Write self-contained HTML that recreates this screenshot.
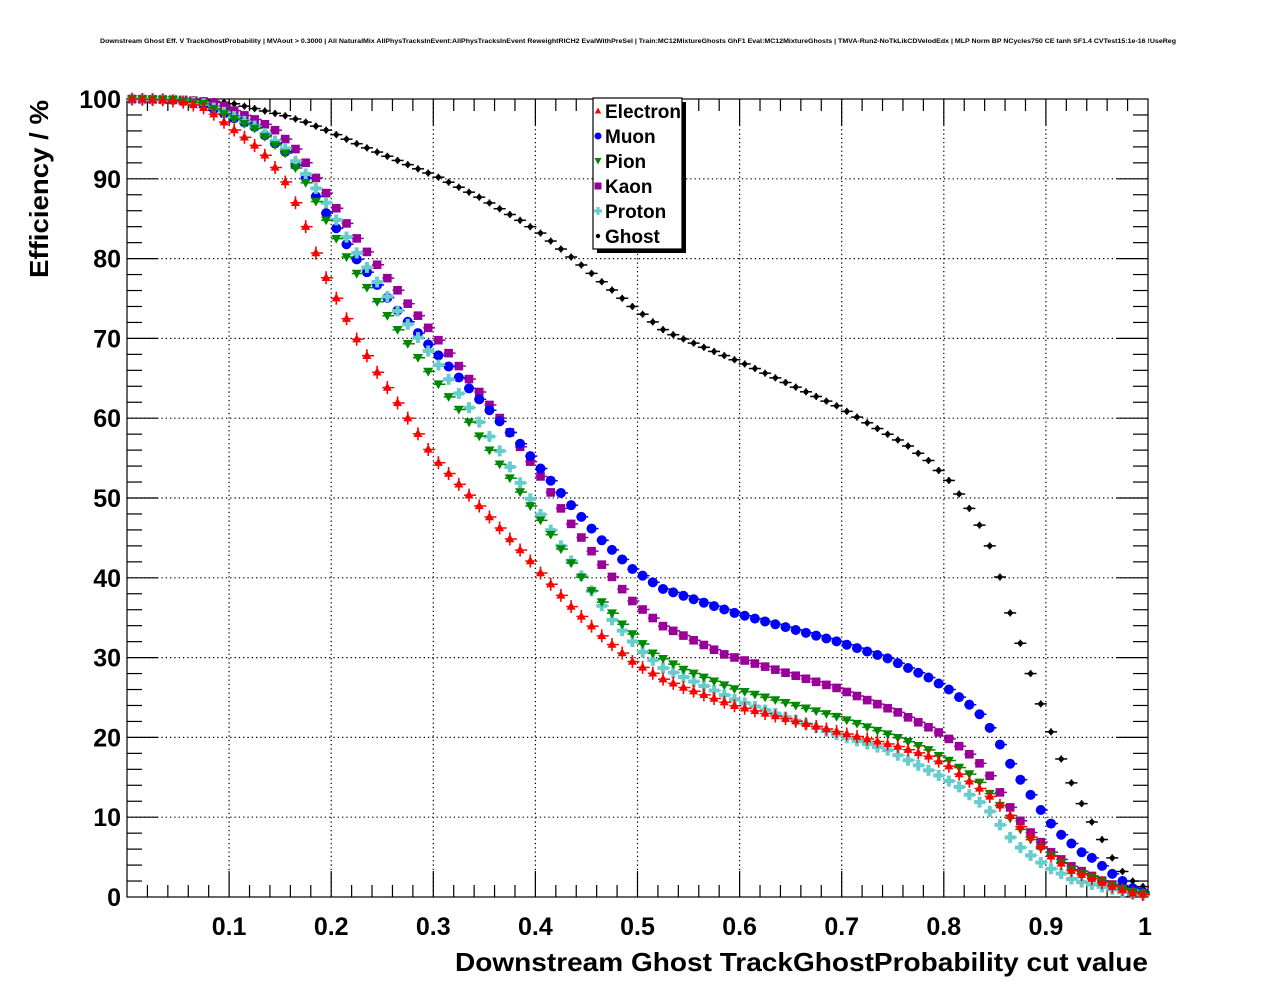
<!DOCTYPE html>
<html><head><meta charset="utf-8"><style>
html,body{margin:0;padding:0;background:#fff;}
svg{display:block;font-family:"Liberation Sans",Arial,sans-serif;}
</style></head><body>
<svg id="s" width="1276" height="996" xmlns="http://www.w3.org/2000/svg">
<rect width="1276" height="996" fill="#fff"/>
<text x="638" y="43" font-size="6.6" font-weight="bold" text-anchor="middle" textLength="1076" lengthAdjust="spacingAndGlyphs">Downstream Ghost Eff. V TrackGhostProbability | MVAout &gt; 0.3000 | All NaturalMix AllPhysTracksInEvent:AllPhysTracksInEvent ReweightRICH2 EvalWithPreSel | Train:MC12MixtureGhosts GhF1 Eval:MC12MixtureGhosts | TMVA-Run2-NoTkLikCDVelodEdx | MLP Norm BP NCycles750 CE tanh SF1.4 CVTest15:1e-16 !UseReg</text>
<g id="grid"></g><g id="axes"></g><g id="data"></g>
<text transform="translate(48,278) rotate(-90)" font-size="26" font-weight="bold" textLength="178" lengthAdjust="spacingAndGlyphs">Efficiency / %</text>
<text x="455" y="971" font-size="26" font-weight="bold" textLength="693" lengthAdjust="spacingAndGlyphs">Downstream Ghost TrackGhostProbability cut value</text>
<g id="leg"></g>
</svg>
<script>
var NS="http://www.w3.org/2000/svg";
function el(p,t,a,txt){var e=document.createElementNS(NS,t);for(var k in a)e.setAttribute(k,a[k]);if(txt!==undefined)e.textContent=txt;p.appendChild(e);return e;}
var X0=127,X1=1148,Y0=897,Y1=99;
function px(x){return X0+x*(X1-X0);}
function py(v){return Y0-v*(Y0-Y1)/100;}
var g=document.getElementById('grid'),ax=document.getElementById('axes'),dg=document.getElementById('data');
for(var i=1;i<10;i++){var x=px(i/10);el(g,'line',{x1:x,y1:Y1,x2:x,y2:Y0,stroke:'#000','stroke-width':1.2,'stroke-dasharray':'1.3,3'});}
for(var i=1;i<10;i++){var y=py(i*10);el(g,'line',{x1:X0,y1:y,x2:X1,y2:y,stroke:'#000','stroke-width':1.2,'stroke-dasharray':'1.3,3'});}
el(ax,'rect',{x:X0,y:Y1,width:X1-X0,height:Y0-Y1,fill:'none',stroke:'#000','stroke-width':1.2});
for(var i=1;i<50;i++){var x=px(i/50);var L=(i%5==0)?26:12;
 el(ax,'line',{x1:x,y1:Y0,x2:x,y2:Y0-L,stroke:'#000','stroke-width':1.2});
 el(ax,'line',{x1:x,y1:Y1,x2:x,y2:Y1+L,stroke:'#000','stroke-width':1.2});}
for(var i=1;i<50;i++){var y=py(i*2);var L=(i%5==0)?31:15;
 el(ax,'line',{x1:X0,y1:y,x2:X0+L,y2:y,stroke:'#000','stroke-width':1.2});
 el(ax,'line',{x1:X1,y1:y,x2:X1-L,y2:y,stroke:'#000','stroke-width':1.2});}
for(var i=1;i<=10;i++){var t=(i==10)?'1':('0.'+i);el(ax,'text',{x:px(i/10)+(i==10?-3:0),y:935,'font-size':25,'font-weight':'bold','text-anchor':'middle'},t);}
for(var i=0;i<=10;i++){el(ax,'text',{x:121,y:py(i*10)+9,'font-size':25,'font-weight':'bold','text-anchor':'end'},String(i*10));}
var S={
ghost:[[0,100],[0.055,100],[0.075,99.8],[0.095,99.6],[0.105,99.4],[0.125,98.8],[0.155,97.9],[0.175,97.1],[0.195,96.1],[0.225,94.4],[0.265,92.3],[0.305,90.2],[0.345,87.7],[0.385,84.8],[0.405,83.2],[0.445,79.2],[0.465,77.1],[0.495,74],[0.525,71.1],[0.536,70.4],[0.606,66.75],[0.696,61.5],[0.763,56.7],[0.785,54.7],[0.805,52.2],[0.815,50.5],[0.825,48.7],[0.835,46.6],[0.845,44],[0.855,40.1],[0.865,35.6],[0.875,31.8],[0.885,28],[0.895,24.2],[0.905,20.7],[0.915,17.3],[0.925,14.3],[0.935,11.7],[0.945,9.4],[0.955,7.2],[0.965,4.9],[0.975,3.2],[0.985,2],[0.995,1.3]],
muon:[[0,100],[0.045,99.9],[0.075,99.3],[0.105,97.6],[0.125,96.5],[0.155,93.4],[0.165,91.7],[0.175,90.1],[0.185,87.8],[0.195,85.7],[0.205,83.8],[0.215,81.8],[0.225,79.9],[0.265,73.5],[0.295,69.25],[0.325,65.1],[0.355,61],[0.385,56.8],[0.405,53.7],[0.435,49.1],[0.465,44.7],[0.495,41.1],[0.525,38.6],[0.595,35.6],[0.696,32],[0.745,29.9],[0.785,27.5],[0.805,26],[0.825,24.1],[0.835,22.9],[0.845,21.2],[0.855,19.1],[0.865,16.7],[0.875,14.7],[0.885,12.8],[0.895,10.9],[0.905,9.2],[0.915,7.8],[0.925,6.7],[0.935,5.6],[0.945,4.9],[0.955,3.9],[0.965,2.9],[0.975,2],[0.985,1.1],[0.995,0.6]],
kaon:[[0,100],[0.054,99.9],[0.084,99.6],[0.094,99.2],[0.104,98.6],[0.114,98],[0.124,97.5],[0.134,96.9],[0.144,96.2],[0.154,95.1],[0.164,93.9],[0.174,92.2],[0.184,90.3],[0.194,88.4],[0.204,86.5],[0.214,84.6],[0.224,82.7],[0.234,81],[0.244,79.4],[0.254,77.7],[0.264,76.2],[0.274,74.5],[0.284,73],[0.303,70.1],[0.364,60.2],[0.384,56.6],[0.405,52.7],[0.433,47.1],[0.464,41.8],[0.494,37.2],[0.524,34],[0.585,30.4],[0.695,26.2],[0.754,23.2],[0.783,21.4],[0.794,20.7],[0.804,19.9],[0.814,19],[0.824,18],[0.834,16.9],[0.844,15.4],[0.854,13.3],[0.864,11.4],[0.874,9.7],[0.884,8.2],[0.894,7],[0.904,5.7],[0.914,4.8],[0.924,3.9],[0.934,3.3],[0.944,2.7],[0.954,2.1],[0.964,1.6],[0.974,1.2],[0.984,0.7],[0.994,0.5]],
pion:[[0,100],[0.045,99.9],[0.075,99.4],[0.105,97.5],[0.125,96.3],[0.155,93.2],[0.175,89.5],[0.195,84.8],[0.215,80.2],[0.224,78.3],[0.266,70.9],[0.294,66],[0.335,59.5],[0.364,54.4],[0.395,49],[0.425,43.6],[0.454,38.5],[0.484,34.3],[0.514,30.6],[0.545,28.5],[0.594,26.1],[0.695,22.6],[0.754,20],[0.784,18.5],[0.795,17.7],[0.805,17.1],[0.814,16.3],[0.824,15.5],[0.834,14.5],[0.844,13.1],[0.854,11.6],[0.864,10],[0.874,8.6],[0.885,7.2],[0.894,6.2],[0.905,5.2],[0.914,4.4],[0.924,3.5],[0.934,3],[0.944,2.6],[0.954,2],[0.964,1.5],[0.974,1.1],[0.984,0.7],[0.994,0.5]],
proton:[[0,100],[0.045,99.9],[0.075,99.4],[0.105,97.8],[0.125,96.6],[0.155,93.8],[0.175,90.6],[0.195,87],[0.215,82.7],[0.224,80.9],[0.264,73.6],[0.294,68.6],[0.334,61.5],[0.365,55.9],[0.394,50.1],[0.424,44.2],[0.434,42.3],[0.473,35],[0.504,30.8],[0.524,28.75],[0.594,24.8],[0.696,20.3],[0.745,18.4],[0.783,16],[0.794,15.3],[0.804,14.6],[0.814,13.9],[0.824,12.9],[0.834,12],[0.844,10.9],[0.854,9.2],[0.864,7.6],[0.874,6.3],[0.884,5.3],[0.894,4.4],[0.904,3.6],[0.914,3],[0.924,2.3],[0.934,1.9],[0.944,1.6],[0.954,1.3],[0.964,1],[0.974,0.6],[0.984,0.4],[0.994,0.3]],
electron:[[0,100],[0.035,99.9],[0.055,99.6],[0.075,98.9],[0.084,98.2],[0.094,97.2],[0.104,96.2],[0.115,95.2],[0.124,94.3],[0.134,93.1],[0.144,91.6],[0.155,89.6],[0.165,87],[0.175,84],[0.185,80.7],[0.195,77.6],[0.225,69.9],[0.245,65.75],[0.275,60],[0.3,55.1],[0.345,49],[0.395,42.1],[0.405,40.6],[0.436,36.25],[0.466,32.6],[0.495,29.5],[0.525,27.3],[0.545,26.25],[0.594,24],[0.696,20.7],[0.754,18.9],[0.784,17.7],[0.805,16.4],[0.815,15.4],[0.825,14.5],[0.835,13.6],[0.845,12.6],[0.855,11.5],[0.865,10.2],[0.875,8.8],[0.885,7.5],[0.895,6.3],[0.905,5.1],[0.915,4.2],[0.925,3.3],[0.935,2.8],[0.945,2.3],[0.955,1.8],[0.965,1.3],[0.975,0.9],[0.985,0.5],[0.995,0.3]]
};
function interp(k,x){if(x<=k[0][0])return k[0][1];for(var i=1;i<k.length;i++){if(x<=k[i][0]){var a=k[i-1],b=k[i];return a[1]+(b[1]-a[1])*(x-a[0])/(b[0]-a[0]);}}return k[k.length-1][1];}
function marker(p,type,cx,cy,col){
 var hb=5;
 if(type=='ghost'){el(p,'line',{x1:cx-6,y1:cy,x2:cx+6,y2:cy,stroke:col,'stroke-width':1.5});el(p,'line',{x1:cx,y1:cy-3.5,x2:cx,y2:cy+3.5,stroke:col,'stroke-width':1.6});el(p,'circle',{cx:cx,cy:cy,r:2.6,fill:col});return;}
 el(p,'line',{x1:cx-hb,y1:cy,x2:cx+hb+2,y2:cy,stroke:col,'stroke-width':1.5});
 if(type=='electron'){el(p,'line',{x1:cx,y1:cy-6.5,x2:cx,y2:cy+6.5,stroke:col,'stroke-width':1.6});el(p,'polygon',{points:(cx)+','+(cy-5)+' '+(cx-4.5)+','+(cy+3.2)+' '+(cx+4.5)+','+(cy+3.2),fill:col});}
 else if(type=='muon'){el(p,'circle',{cx:cx,cy:cy,r:5,fill:col});}
 else if(type=='pion'){el(p,'polygon',{points:(cx-5)+','+(cy-3.8)+' '+(cx+5)+','+(cy-3.8)+' '+cx+','+(cy+5),fill:col});}
 else if(type=='kaon'){el(p,'rect',{x:cx-4.3,y:cy-4.3,width:8.6,height:8.6,fill:col});}
 else if(type=='proton'){el(p,'rect',{x:cx-5.5,y:cy-2,width:11,height:4,fill:col});el(p,'rect',{x:cx-2,y:cy-5.5,width:4,height:11,fill:col});}
}
var cols={electron:'#ff0000',muon:'#0000ff',pion:'#008800',kaon:'#990099',proton:'#66cccc',ghost:'#000000'};
['ghost','kaon','muon','proton','pion','electron'].forEach(function(n){
 var gg=el(dg,'g',{});
 for(var k=0;k<100;k++){var x=0.005+0.01*k;var v=interp(S[n],x);marker(gg,n,px(x),py(v),cols[n]);}
});
var L=document.getElementById('leg');
el(L,'rect',{x:597,y:102,width:89,height:151,fill:'#000'});
el(L,'rect',{x:593,y:98,width:89,height:151,fill:'#fff',stroke:'#000','stroke-width':1.2});
var names=[['electron','Electron'],['muon','Muon'],['pion','Pion'],['kaon','Kaon'],['proton','Proton'],['ghost','Ghost']];
names.forEach(function(a,i){var y=111+i*25;
 var c=cols[a[0]],t=a[0],cx=598,cy=y;
 if(t=='electron')el(L,'polygon',{points:cx+','+(cy-3.5)+' '+(cx-3.2)+','+(cy+2.5)+' '+(cx+3.2)+','+(cy+2.5),fill:c});
 else if(t=='muon')el(L,'circle',{cx:cx,cy:cy,r:3.5,fill:c});
 else if(t=='pion')el(L,'polygon',{points:(cx-3.5)+','+(cy-3)+' '+(cx+3.5)+','+(cy-3)+' '+cx+','+(cy+3.5),fill:c});
 else if(t=='kaon')el(L,'rect',{x:cx-3.5,y:cy-3.5,width:7,height:7,fill:c});
 else if(t=='proton'){el(L,'rect',{x:cx-4,y:cy-1.5,width:8,height:3,fill:c});el(L,'rect',{x:cx-1.5,y:cy-4,width:3,height:8,fill:c});}
 else el(L,'circle',{cx:cx,cy:cy,r:2.2,fill:c});
 el(L,'text',{x:605,y:y+7,'font-size':19,'font-weight':'bold'},a[1]);
});
</script>
</body></html>
